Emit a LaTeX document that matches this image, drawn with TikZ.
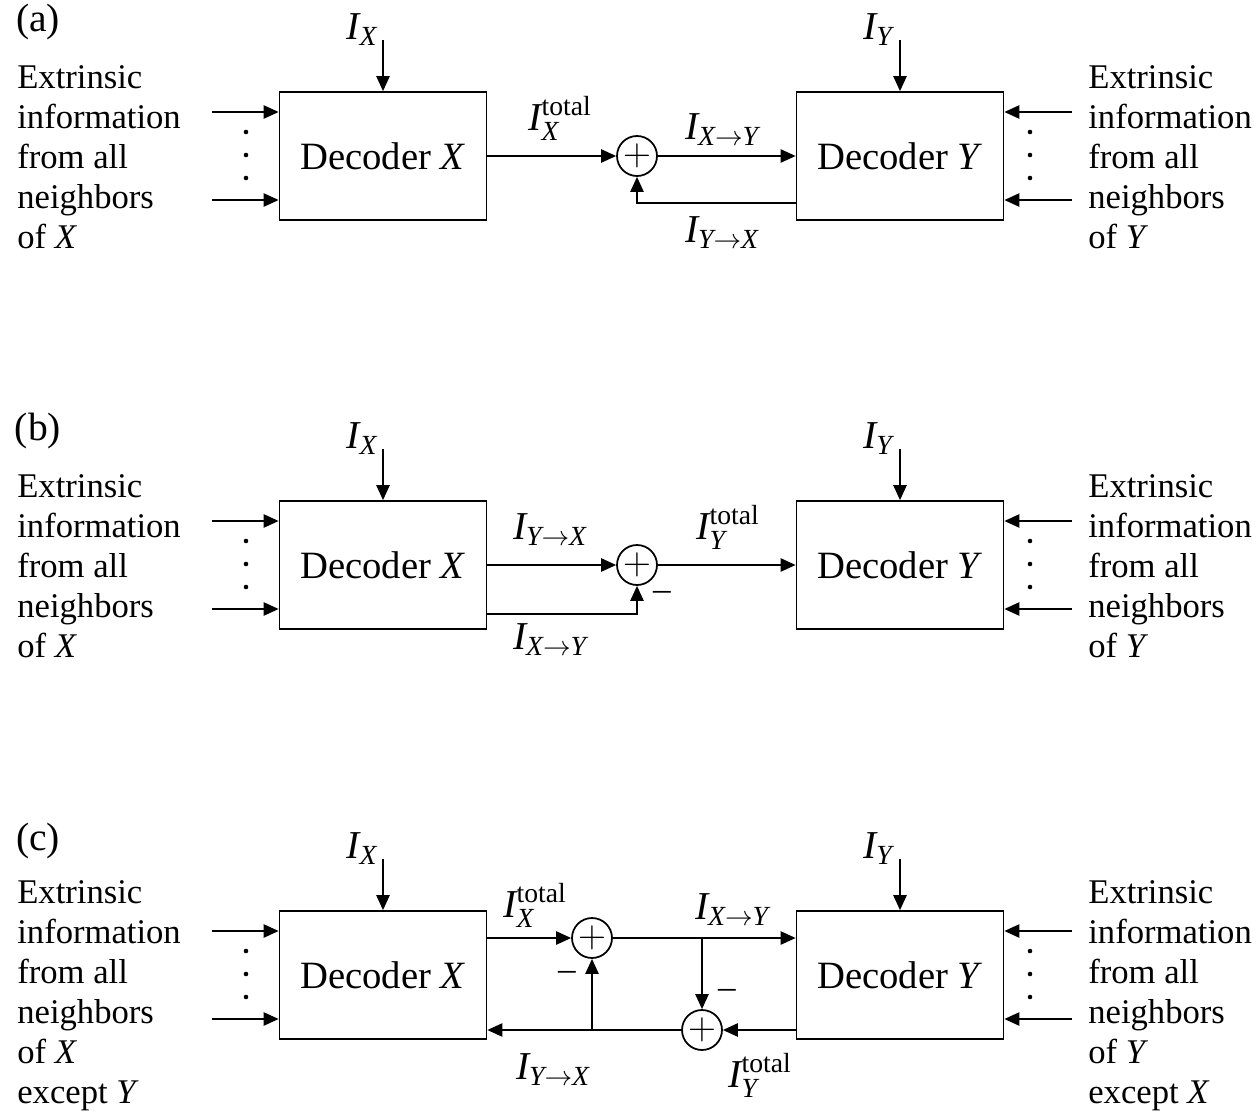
\documentclass[tikz,border=0pt]{standalone}
\usepackage{fix-cm}
\usepackage{amsmath}
\usepackage{fontspec}
\setmainfont{Liberation Serif}
\usetikzlibrary{arrows.meta,positioning,calc}

\newcommand{\mv}[1]{\textit{#1}}

\begin{document}
\begin{tikzpicture}[x=0.02cm, y=-0.02cm,
    decoder/.style={draw, line width=1pt, minimum width=4.14cm, minimum height=2.56cm, font=\fontsize{22}{26}\selectfont},
    summer/.style={draw, circle, line width=1pt, minimum size=0.8cm, inner sep=0pt, font=\fontsize{22}{24}\selectfont},
    sidetext/.style={align=left, inner sep=0pt, font=\fontsize{19.7}{22.8}\selectfont},
    lbl/.style={inner sep=0pt, font=\fontsize{22.5}{26}\selectfont},
    minus/.style={inner sep=0pt, font=\fontsize{20}{22}\selectfont},
    arrow/.style={line width=1pt, -{Triangle[length=8.5pt,width=7.5pt]}}
]
\useasboundingbox (0,0) rectangle (1257,1115);

% common parts of the three panels
\foreach \p/\dy in {a/0, b/409, c/819} {
    \node[lbl] (tag\p) at (38,22+\dy) {(\p)};
    \node[decoder] (decX\p) at (383,156+\dy) {Decoder \mv{X}};
    \node[decoder] (decY\p) at (900,156+\dy) {Decoder \mv{Y}};
    \node[lbl] (ix\p) at (362,30+\dy) {$\mv{I}_{\mv{X}}$};
    \node[lbl] (iy\p) at (878,30+\dy) {$\mv{I}_{\mv{Y}}$};
    \coordinate (ixs\p) at (383,40+\dy);
    \coordinate (iys\p) at (900,40+\dy);
    \draw[arrow] (ixs\p) -- (decX\p.north);
    \draw[arrow] (iys\p) -- (decY\p.north);
    \coordinate (inXt\p) at (212,112+\dy);
    \coordinate (inXb\p) at (212,200+\dy);
    \coordinate (inYt\p) at (1072,112+\dy);
    \coordinate (inYb\p) at (1072,200+\dy);
    \draw[arrow] (inXt\p) -- (inXt\p -| decX\p.west);
    \draw[arrow] (inXb\p) -- (inXb\p -| decX\p.west);
    \draw[arrow] (inYt\p) -- (inYt\p -| decY\p.east);
    \draw[arrow] (inYb\p) -- (inYb\p -| decY\p.east);
    \foreach \d in {132,155,178} {
        \fill (246,\d+\dy) circle[radius=1.3pt];
        \fill (1030,\d+\dy) circle[radius=1.3pt];
    }
}

% side texts
\node[sidetext, anchor=west] (srcXa) at (17,157) {Extrinsic\\information\\from all\\neighbors\\of \mv{X}};
\node[sidetext, anchor=west] (srcYa) at (1088,157) {Extrinsic\\information\\from all\\neighbors\\of \mv{Y}};
\node[sidetext, anchor=west] (srcXb) at (17,566) {Extrinsic\\information\\from all\\neighbors\\of \mv{X}};
\node[sidetext, anchor=west] (srcYb) at (1088,566) {Extrinsic\\information\\from all\\neighbors\\of \mv{Y}};
\node[sidetext, anchor=west] (srcXc) at (17,996) {Extrinsic\\information\\from all\\neighbors\\of \mv{X}\\except \mv{Y}};
\node[sidetext, anchor=west] (srcYc) at (1088,996) {Extrinsic\\information\\from all\\neighbors\\of \mv{Y}\\except \mv{X}};

% panel (a)
\node[summer] (sa) at (637,156) {$+$};
\draw[arrow] (decXa.east) -- (sa.west);
\draw[arrow] (sa.east) -- (decYa.west);
\draw[arrow] ($(decYa.south west)+(0,-18)$) -| (sa.south);
\node[lbl] (totXa) at (560,118) {$\mv{I}_{\mv{X}}^{\text{total}}$};
\node[lbl] (xya) at (722,130) {$\mv{I}_{\mv{X}\to\mv{Y}}$};
\node[lbl] (yxa) at (722,233) {$\mv{I}_{\mv{Y}\to\mv{X}}$};

% panel (b)
\node[summer] (sb) at (637,565) {$+$};
\draw[arrow] (decXb.east) -- (sb.west);
\draw[arrow] (sb.east) -- (decYb.west);
\draw[arrow] ($(decXb.south east)+(0,-16)$) -| (sb.south);
\node[minus] (minb) at (662,596) {–};
\node[lbl] (yxb) at (550,530) {$\mv{I}_{\mv{Y}\to\mv{X}}$};
\node[lbl] (totYb) at (728,527) {$\mv{I}_{\mv{Y}}^{\text{total}}$};
\node[lbl] (xyb) at (550,640) {$\mv{I}_{\mv{X}\to\mv{Y}}$};

% panel (c)
\node[summer] (s1c) at (592,938) {$+$};
\node[summer] (s2c) at (702,1030) {$+$};
\draw[arrow] (s1c.west -| decXc.east) -- (s1c.west);
\draw[arrow] (s1c.east) -- (s1c.east -| decYc.west);
\coordinate (brYc) at (702,938);
\draw[arrow] (brYc) -- (s2c.north);
\draw[arrow] (s2c.east -| decYc.west) -- (s2c.east);
\draw[arrow] (s2c.west) -- (s2c.west -| decXc.east);
\coordinate (brXc) at (592,1030);
\draw[arrow] (brXc) -- (s1c.south);
\node[minus] (min1c) at (567,976) {–};
\node[minus] (min2c) at (727,994) {–};
\node[lbl] (totXc) at (535,905) {$\mv{I}_{\mv{X}}^{\text{total}}$};
\node[lbl] (xyc) at (732,910) {$\mv{I}_{\mv{X}\to\mv{Y}}$};
\node[lbl] (yxc) at (553,1070) {$\mv{I}_{\mv{Y}\to\mv{X}}$};
\node[lbl] (totYc) at (760,1075) {$\mv{I}_{\mv{Y}}^{\text{total}}$};

\end{tikzpicture}
\end{document}
